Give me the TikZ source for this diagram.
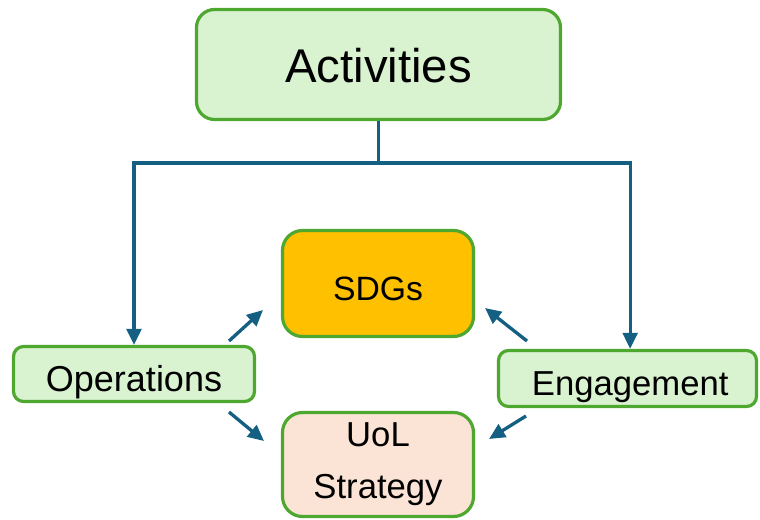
\documentclass[tikz,border=0pt]{standalone}
\usepackage{fontspec}
\setmainfont{Liberation Sans}
\usetikzlibrary{arrows.meta}
\definecolor{gborder}{HTML}{4EA72E}
\definecolor{gfill}{HTML}{D9F2D0}
\definecolor{ofill}{HTML}{FFC000}
\definecolor{pfill}{HTML}{FBE3D6}
\definecolor{conncol}{HTML}{156082}
\tikzset{
  box/.style={draw=gborder, line width=2.4pt, fill=gfill, align=center, inner sep=0pt},
  conn/.style={draw=conncol, line width=2.5pt, -{Triangle[length=12pt,width=11pt]}},
  oneline/.style={text height=25.5pt, text depth=0pt}
}
\begin{document}
\begin{tikzpicture}[x=0.75pt,y=-0.75pt]
\useasboundingbox (0,0) rectangle (760,520);
\node[box, rounded corners=13.5pt, minimum width=273pt, minimum height=82.5pt, text height=26.5pt, text depth=0pt, font=\fontsize{35.5}{40}\selectfont] (act) at (378.5,64.5) {Activities};
\node[box, oneline, rounded corners=7.5pt, minimum width=180.75pt, minimum height=41.25pt, font=\fontsize{27}{30}\selectfont] (ops) at (134,374) {Operations};
\node[box, oneline, rounded corners=7.5pt, minimum width=193.5pt, minimum height=42pt, font=\fontsize{26}{30}\selectfont] (eng) at (627.5,378.5) {\hspace{4pt}Engagement};
\node[box, oneline, fill=ofill, rounded corners=15pt, minimum width=143.25pt, minimum height=79.5pt, font=\fontsize{25.3}{30}\selectfont] (sdg) at (378,283.5) {SDGs};
\node[box, fill=pfill, rounded corners=15pt, minimum width=143.25pt, minimum height=78pt, font=\fontsize{26}{39}\selectfont] (uol) at (378,464.5) {UoL\\Strategy};
\coordinate (j) at (378.5,163);
\draw[conn] (act.south) -- (j) -| (ops.north);
\draw[conn] (j) -| ([xshift=2pt]eng.north);
\coordinate (o1) at (229,341);
\coordinate (o1e) at (263,310);
\coordinate (o2) at (229,412);
\coordinate (o2e) at (264,441);
\coordinate (e1) at (527,341);
\coordinate (e1e) at (485,308);
\coordinate (e2) at (526,416);
\coordinate (e2e) at (489,439);
\draw[conn] (o1) -- (o1e);
\draw[conn] (o2) -- (o2e);
\draw[conn] (e1) -- (e1e);
\draw[conn] (e2) -- (e2e);
\end{tikzpicture}
\end{document}
